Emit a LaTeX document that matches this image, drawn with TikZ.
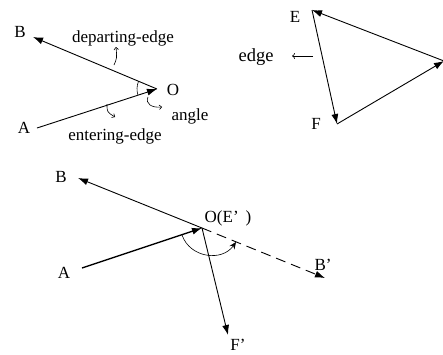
\documentclass[tikz,border=0pt]{standalone}
\usepackage{fontspec}
\setmainfont{Liberation Serif}
\usetikzlibrary{arrows.meta}
\begin{document}
\begin{tikzpicture}[x=1pt,y=-1pt,
  edgeline/.style={line width=0.9pt,-{Latex[length=10pt,width=7pt]}},
  thinarrow/.style={line width=0.6pt,-{To[length=3pt,width=5pt]}},
  lbl/.style={inner sep=0pt,font=\fontsize{17}{19}\selectfont}]
\useasboundingbox (0,0) rectangle (443,354);
% ---- top left ----
\coordinate (O1) at (157,89);
\coordinate (B1) at (33,37);
\coordinate (A1) at (37,128);
\draw[edgeline] (O1) -- (B1);
\draw[edgeline] (A1) -- (O1);
\draw[line width=0.6pt] ([shift={(-157:20)}]O1) arc[start angle=-157,end angle=-198,radius=20];
\node[lbl] (lB1) at (20,32) {B};
\node[lbl] (lA1) at (24,128) {A};
\node[lbl] (lO1) at (173,90) {O};
\node[lbl] (lang) at (190,116) {angle};
\node[lbl] (ldep) at (123,38) {departing-edge};
\node[lbl] (lent) at (115,136) {entering-edge};
\coordinate (p1) at (114,65);
\coordinate (p2) at (116,47);
\draw[thinarrow] (p1) .. controls (117,58) .. (p2);
\coordinate (q1) at (107,104);
\coordinate (q2) at (115,117);
\draw[thinarrow] (q1) .. controls (107,112) .. (q2);
\coordinate (r1) at (148,97);
\coordinate (r2) at (162,107);
\draw[thinarrow] (r1) .. controls (145,104) and (152,108) .. (r2);
% ---- top right ----
\coordinate (E) at (312,10);
\coordinate (F) at (337,124);
\coordinate (R) at (444,61);
\draw[edgeline] (R) -- (E);
\draw[edgeline] (E) -- (F);
\draw[edgeline] (F) -- (R);
\node[lbl] (lE) at (295,17) {E};
\node[lbl] (lF) at (316,124) {F};
\node[lbl,font=\fontsize{18.5}{20}\selectfont] (ledge) at (256,57) {edge};
\coordinate (s1) at (313,56);
\coordinate (s2) at (292,56);
\draw[line width=0.6pt,-{To[length=3pt,width=6pt]}] (s1) -- (s2);
% ---- bottom ----
\coordinate (O2) at (202,228);
\coordinate (B2) at (78,178);
\coordinate (A2) at (82,268);
\coordinate (Bp) at (325,278);
\coordinate (Fp) at (228,335);
\draw[edgeline] (O2) -- (B2);
\draw[edgeline,line width=1.3pt] (A2) -- (O2);
\draw[edgeline] (O2) -- (Fp);
\draw[edgeline,dashed,dash pattern=on 10pt off 6pt] (O2) -- (Bp);
\coordinate (c1) at (182,235);
\coordinate (c2) at (236,242);
\draw[line width=0.6pt,-{Stealth[length=7pt,width=6pt]}] (c1) .. controls (190,258) and (222,262) .. (c2);
\node[lbl] (lB2) at (61,177) {B};
\node[lbl] (lA2) at (64,273) {A};
\node[lbl] (lO2) at (228,218) {O(E’\hspace{7pt})};
\node[lbl] (lBp) at (323,265) {B’};
\node[lbl] (lFp) at (238,345) {F’};
\end{tikzpicture}
\end{document}
